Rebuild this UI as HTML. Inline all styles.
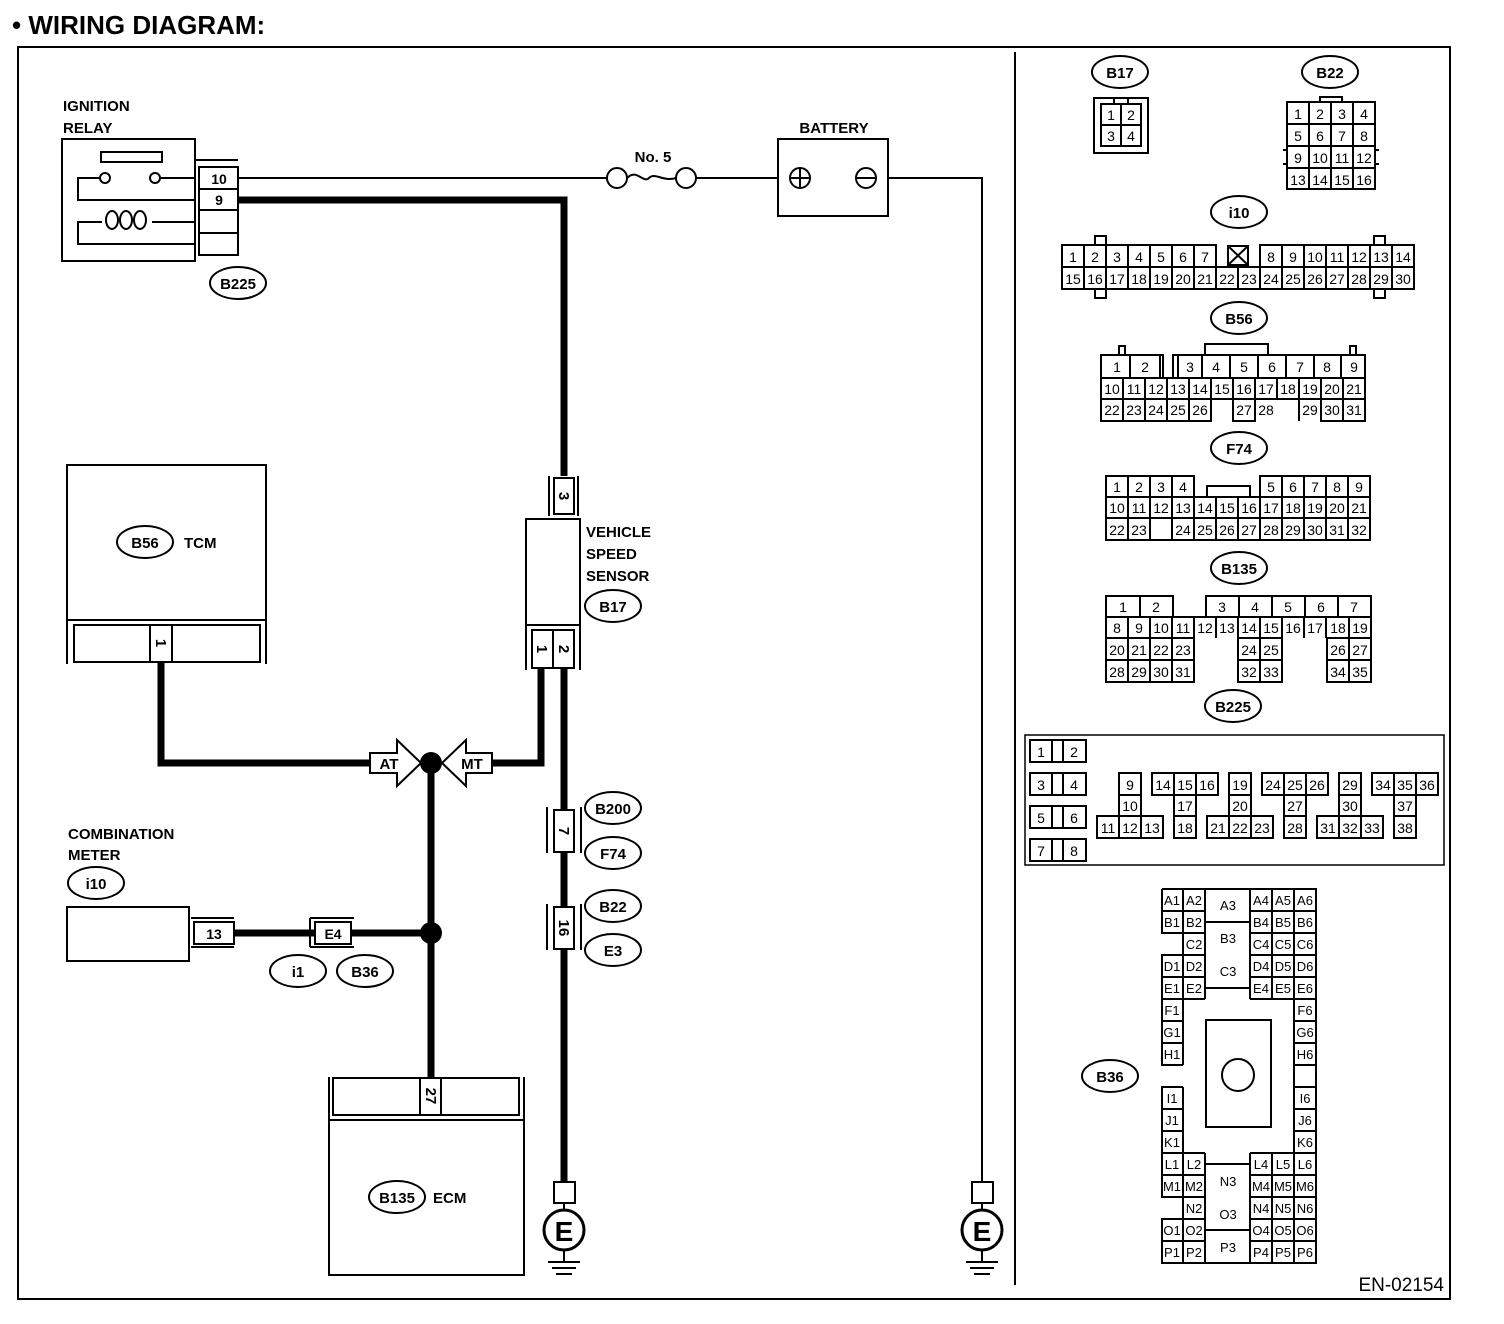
<!DOCTYPE html>
<html><head><meta charset="utf-8"><style>
html,body{margin:0;padding:0;background:#fff}
svg{display:block}
.r{fill:#fff;stroke:#000;stroke-width:2}
.n{fill:none;stroke:#000;stroke-width:2}
.w{fill:none;stroke:#000;stroke-width:7}
.t{font-family:"Liberation Sans",sans-serif;font-size:14px;text-anchor:middle}
.b{font-family:"Liberation Sans",sans-serif;font-size:15px;font-weight:bold}
.o{font-family:"Liberation Sans",sans-serif;font-size:15px;font-weight:bold;text-anchor:middle}
</style></head><body>
<svg width="1504" height="1324" viewBox="0 0 1504 1324" xmlns="http://www.w3.org/2000/svg">
<text x="12" y="34" style="font-family:'Liberation Sans',sans-serif;font-size:26px;font-weight:bold">•  WIRING DIAGRAM:</text>
<rect x="18" y="47" width="1432" height="1252" class="n"/>
<line x1="1015" y1="52" x2="1015" y2="1285" class="n"/>

<!-- Ignition relay -->
<text x="63" y="111" class="b">IGNITION</text><text x="63" y="133" class="b">RELAY</text>
<rect x="62" y="139" width="133" height="122" class="n"/>
<rect x="101" y="152" width="61" height="10" class="n"/>
<path d="M195 178 H160 M100 178 H78 V200 H195 M195 222 H152 M102 222 H78 V244 H195" class="n"/>
<circle cx="105" cy="178" r="5" class="r"/><circle cx="155" cy="178" r="5" class="r"/>
<ellipse cx="112" cy="220" rx="6" ry="9" class="n"/><ellipse cx="126" cy="220" rx="6" ry="9" class="n"/><ellipse cx="140" cy="220" rx="6" ry="9" class="n"/>
<line x1="195" y1="160" x2="238" y2="160" class="n"/>
<rect x="199" y="167" width="39" height="88" class="n"/>
<path d="M199 189 H238 M199 210 H238 M199 233 H238" class="n"/>
<text x="219" y="184" class="o" style="font-size:14px">10</text><text x="219" y="205" class="o" style="font-size:14px">9</text>
<ellipse cx="238" cy="283" rx="28" ry="16" class="n"/><text x="238" y="289" class="o">B225</text>

<!-- fuse and battery -->
<path d="M238 178 H607 M696 178 H778" class="n"/>
<circle cx="617" cy="178" r="10" class="r"/><circle cx="686" cy="178" r="10" class="r"/>
<path d="M627 178 c10-10 16 6 22 0 c6-6 14 4 27 0" class="n"/>
<text x="653" y="162" class="o">No. 5</text>
<text x="834" y="133" class="o">BATTERY</text>
<rect x="778" y="139" width="110" height="77" class="n"/>
<circle cx="800" cy="178" r="10" class="r"/><path d="M790 178H810M800 168V188" class="n"/>
<circle cx="866" cy="178" r="10" class="r"/><path d="M856 178H876" class="n"/>
<path d="M888 178 H982 V1182" class="n"/>
<rect x="972" y="1182" width="21" height="21" class="n"/>
<line x1="982" y1="1203" x2="982" y2="1210" class="n"/>
<circle cx="982" cy="1230" r="20" class="n" style="stroke-width:3"/>
<text x="982" y="1241" class="o" style="font-size:28px">E</text>
<path d="M982 1250V1262 M966 1262H998 M970 1268H994 M974 1274H990" class="n"/>

<!-- thick wire 9 -->
<path d="M238 200 H564 V476" class="w"/>
<path d="M549 476V516 M578 476V516" class="n"/>
<rect x="554" y="478" width="20" height="36" class="r"/>
<text transform="translate(564,496) rotate(90)" class="o" y="5">3</text>
<rect x="526" y="519" width="54" height="106" class="n"/>
<path d="M526 625V670 M580 625V670" class="n"/>
<rect x="532" y="630" width="42" height="38" class="r"/><line x1="553" y1="630" x2="553" y2="668" class="n"/>
<text transform="translate(542,649) rotate(90)" class="o" y="5">1</text>
<text transform="translate(564,649) rotate(90)" class="o" y="5">2</text>
<text x="586" y="537" class="b">VEHICLE</text><text x="586" y="559" class="b">SPEED</text><text x="586" y="581" class="b">SENSOR</text>
<ellipse cx="613" cy="606" rx="28" ry="16" class="n"/><text x="613" y="612" class="o">B17</text>

<!-- TCM -->
<rect x="67" y="465" width="199" height="155" class="n"/>
<ellipse cx="145" cy="542" rx="28" ry="16" class="n"/><text x="145" y="548" class="o">B56</text>
<text x="184" y="548" class="b">TCM</text>
<path d="M67 620V664 M266 620V664 M67 620H266" class="n"/>
<rect x="74" y="625" width="186" height="37" class="n"/>
<rect x="150" y="625" width="22" height="37" class="r"/>
<text transform="translate(161,643) rotate(90)" class="o" y="5">1</text>

<path d="M161 662 V763 H372" class="w"/>
<path d="M541 668 V763 H490" class="w"/>
<path d="M564 668 V1182" class="w"/>
<path d="M431 763 V1077" class="w"/>
<path d="M235 933 H431" class="w"/>
<path d="M370 753 H397 V740 L421 763 L397 786 V773 H370 Z" class="r"/>
<text x="389" y="769" class="o">AT</text>
<path d="M492 753 H466 V740 L442 763 L466 786 V773 H492 Z" class="r"/>
<text x="472" y="769" class="o">MT</text>
<circle cx="431" cy="763" r="11"/>
<circle cx="431" cy="933" r="11"/>

<path d="M547 807V853 M581 807V853" class="n"/>
<rect x="554" y="810" width="20" height="42" class="r"/>
<text transform="translate(564,831) rotate(90)" class="o" y="5">7</text>
<path d="M547 904V950 M581 904V950" class="n"/>
<rect x="554" y="907" width="20" height="42" class="r"/>
<text transform="translate(564,928) rotate(90)" class="o" y="5">16</text>
<ellipse cx="613" cy="808" rx="28" ry="16" class="n"/><text x="613" y="814" class="o">B200</text>
<ellipse cx="613" cy="853" rx="28" ry="16" class="n"/><text x="613" y="859" class="o">F74</text>
<ellipse cx="613" cy="906" rx="28" ry="16" class="n"/><text x="613" y="912" class="o">B22</text>
<ellipse cx="613" cy="950" rx="28" ry="16" class="n"/><text x="613" y="956" class="o">E3</text>
<rect x="554" y="1182" width="21" height="21" class="n"/>
<line x1="564" y1="1203" x2="564" y2="1210" class="n"/>
<circle cx="564" cy="1230" r="20" class="n" style="stroke-width:3"/>
<text x="564" y="1241" class="o" style="font-size:28px">E</text>
<path d="M564 1250V1262 M548 1262H580 M552 1268H576 M556 1274H572" class="n"/>

<!-- Combination meter -->
<text x="68" y="839" class="b">COMBINATION</text><text x="68" y="860" class="b">METER</text>
<ellipse cx="96" cy="883" rx="28" ry="16" class="n"/><text x="96" y="889" class="o">i10</text>
<rect x="67" y="907" width="122" height="54" class="n"/>
<path d="M191 918H234 M191 947H234" class="n"/>
<rect x="194" y="922" width="40" height="22" class="r"/><text x="214" y="939" class="o" style="font-size:14px">13</text>
<path d="M310 918H354 M310 947H354 M310 918V947" class="n"/>
<rect x="315" y="922" width="36" height="22" class="r"/><text x="333" y="939" class="o" style="font-size:14px">E4</text>
<ellipse cx="298" cy="971" rx="28" ry="16" class="n"/><text x="298" y="977" class="o">i1</text>
<ellipse cx="365" cy="971" rx="28" ry="16" class="n"/><text x="365" y="977" class="o">B36</text>

<!-- ECM -->
<path d="M329 1077V1275H524V1077" class="n"/>
<line x1="329" y1="1120" x2="524" y2="1120" class="n"/>
<rect x="333" y="1078" width="186" height="37" class="n"/>
<rect x="420" y="1078" width="21" height="37" class="r"/>
<text transform="translate(431,1096) rotate(90)" class="o" y="5">27</text>
<ellipse cx="397" cy="1197" rx="28" ry="16" class="n"/><text x="397" y="1203" class="o">B135</text>
<text x="433" y="1203" class="b">ECM</text>

<!-- RIGHT: B17 -->
<ellipse cx="1120" cy="72" rx="28" ry="16" class="n"/><text x="1120" y="78" class="o">B17</text>
<rect x="1094" y="98" width="54" height="55" class="n"/>
<rect x="1101" y="104" width="40" height="42" class="n"/>
<path d="M1121 104V146 M1101 125H1141 M1114 98V104 M1128 98V104" class="n"/>
<text x="1111" y="120" class="t">1</text><text x="1131" y="120" class="t">2</text>
<text x="1111" y="141" class="t">3</text><text x="1131" y="141" class="t">4</text>

<!-- B22 -->
<ellipse cx="1330" cy="72" rx="28" ry="16" class="n"/><text x="1330" y="78" class="o">B22</text>
<rect x="1320" y="97" width="22" height="5" class="n"/>
<rect x="1287" y="102" width="88" height="87" class="n"/>
<path d="M1309 102V189 M1331 102V189 M1353 102V189 M1287 124H1375 M1287 146H1375 M1287 168H1375 M1283 150H1287V164H1283 M1379 150H1375V164H1379" class="n"/>
<g class="t"><text x="1298" y="119">1</text><text x="1320" y="119">2</text><text x="1342" y="119">3</text><text x="1364" y="119">4</text>
<text x="1298" y="141">5</text><text x="1320" y="141">6</text><text x="1342" y="141">7</text><text x="1364" y="141">8</text>
<text x="1298" y="163">9</text><text x="1320" y="163">10</text><text x="1342" y="163">11</text><text x="1364" y="163">12</text>
<text x="1298" y="185">13</text><text x="1320" y="185">14</text><text x="1342" y="185">15</text><text x="1364" y="185">16</text></g>

<!-- i10 -->
<ellipse cx="1239" cy="212" rx="28" ry="16" class="n"/><text x="1239" y="218" class="o">i10</text>
<path d="M1216 267V245H1062V289H1414V245H1260V267" class="n"/>
<path d="M1062 267H1414" class="n"/>
<path d="M1084 245V289 M1106 245V289 M1128 245V289 M1150 245V289 M1172 245V289 M1194 245V289 M1216 245V289 M1238 267V289 M1260 245V289 M1282 245V289 M1304 245V289 M1326 245V289 M1348 245V289 M1370 245V289 M1392 245V289" class="n"/>
<rect x="1228" y="246" width="20" height="19" class="n"/><path d="M1228 246L1248 265M1248 246L1228 265" class="n"/>
<path d="M1095 245V236H1106V245 M1095 289V298H1106V289 M1374 245V236H1385V245 M1374 289V298H1385V289" class="n"/>
<g class="t"><text x="1073" y="262">1</text><text x="1095" y="262">2</text><text x="1117" y="262">3</text><text x="1139" y="262">4</text><text x="1161" y="262">5</text><text x="1183" y="262">6</text><text x="1205" y="262">7</text>
<text x="1271" y="262">8</text><text x="1293" y="262">9</text><text x="1315" y="262">10</text><text x="1337" y="262">11</text><text x="1359" y="262">12</text><text x="1381" y="262">13</text><text x="1403" y="262">14</text>
<text x="1073" y="284">15</text><text x="1095" y="284">16</text><text x="1117" y="284">17</text><text x="1139" y="284">18</text><text x="1161" y="284">19</text><text x="1183" y="284">20</text><text x="1205" y="284">21</text><text x="1227" y="284">22</text><text x="1249" y="284">23</text><text x="1271" y="284">24</text><text x="1293" y="284">25</text><text x="1315" y="284">26</text><text x="1337" y="284">27</text><text x="1359" y="284">28</text><text x="1381" y="284">29</text><text x="1403" y="284">30</text></g>

<!-- B56 -->
<ellipse cx="1239" cy="318" rx="28" ry="16" class="n"/><text x="1239" y="324" class="o">B56</text>
<path d="M1163 378V355H1101V421H1211V399 M1233 399V421H1255V399 M1321 399V421H1365V355H1173V378" class="n"/>
<path d="M1101 378H1365 M1101 399H1365" class="n"/>
<path d="M1123 378V421 M1145 378V421 M1167 378V421 M1189 378V421 M1211 378V399 M1233 378V399 M1255 378V399 M1277 378V399 M1299 378V421 M1321 378V421 M1343 378V421" class="n"/>
<path d="M1130 355V378 M1160 355V378 M1178 355V378 M1202 355V378 M1230 355V378 M1258 355V378 M1286 355V378 M1314 355V378 M1341 355V378" class="n"/>
<path d="M1119 355V346H1125V355 M1350 355V346H1356V355 M1205 355V344H1268V355" class="n"/>
<g class="t"><text x="1117" y="372">1</text><text x="1145" y="372">2</text><text x="1190" y="372">3</text><text x="1216" y="372">4</text><text x="1244" y="372">5</text><text x="1272" y="372">6</text><text x="1300" y="372">7</text><text x="1327" y="372">8</text><text x="1354" y="372">9</text>
<text x="1112" y="394">10</text><text x="1134" y="394">11</text><text x="1156" y="394">12</text><text x="1178" y="394">13</text><text x="1200" y="394">14</text><text x="1222" y="394">15</text><text x="1244" y="394">16</text><text x="1266" y="394">17</text><text x="1288" y="394">18</text><text x="1310" y="394">19</text><text x="1332" y="394">20</text><text x="1354" y="394">21</text>
<text x="1112" y="415">22</text><text x="1134" y="415">23</text><text x="1156" y="415">24</text><text x="1178" y="415">25</text><text x="1200" y="415">26</text><text x="1244" y="415">27</text><text x="1266" y="415">28</text><text x="1310" y="415">29</text><text x="1332" y="415">30</text><text x="1354" y="415">31</text></g>

<!-- F74 -->
<ellipse cx="1239" cy="448" rx="28" ry="16" class="n"/><text x="1239" y="454" class="o">F74</text>
<path d="M1194 497V476H1106V540H1370V476H1260V497" class="n"/>
<path d="M1106 497H1370 M1106 518H1370" class="n"/>
<path d="M1128 476V540 M1150 476V540 M1172 476V540 M1194 497V518 M1216 497V518 M1238 497V518 M1260 497V518 M1282 476V540 M1304 476V540 M1326 476V540 M1348 476V540 M1194 518V540 M1260 518V540 M1216 518V540 M1238 518V540" class="n"/>
<path d="M1207 497V486H1250V497" class="n"/>
<g class="t"><text x="1117" y="492">1</text><text x="1139" y="492">2</text><text x="1161" y="492">3</text><text x="1183" y="492">4</text><text x="1271" y="492">5</text><text x="1293" y="492">6</text><text x="1315" y="492">7</text><text x="1337" y="492">8</text><text x="1359" y="492">9</text>
<text x="1117" y="513">10</text><text x="1139" y="513">11</text><text x="1161" y="513">12</text><text x="1183" y="513">13</text><text x="1205" y="513">14</text><text x="1227" y="513">15</text><text x="1249" y="513">16</text><text x="1271" y="513">17</text><text x="1293" y="513">18</text><text x="1315" y="513">19</text><text x="1337" y="513">20</text><text x="1359" y="513">21</text>
<text x="1117" y="535">22</text><text x="1139" y="535">23</text><text x="1183" y="535">24</text><text x="1205" y="535">25</text><text x="1227" y="535">26</text><text x="1249" y="535">27</text><text x="1271" y="535">28</text><text x="1293" y="535">29</text><text x="1315" y="535">30</text><text x="1337" y="535">31</text><text x="1359" y="535">32</text></g>
<path d="M1172 518V540 M1326 518V540" class="n"/>

<!-- B135 -->
<ellipse cx="1239" cy="568" rx="28" ry="16" class="n"/><text x="1239" y="574" class="o">B135</text>
<path d="M1173 617V596H1106V682H1194V638" class="n"/>
<path d="M1206 617V596H1371V682H1327V638" class="n"/>
<path d="M1238 638V682H1282V638" class="n"/>
<path d="M1106 617H1371 M1106 638H1194 M1238 638H1282 M1327 638H1371 M1106 660H1194 M1238 660H1282 M1327 660H1371" class="n"/>
<path d="M1140 596V617 M1239 596V617 M1272 596V617 M1305 596V617 M1338 596V617" class="n"/>
<path d="M1128 617V682 M1150 617V682 M1172 617V682 M1194 617V638 M1216 617V638 M1238 617V638 M1260 617V682 M1282 617V638 M1304 617V638 M1326 617V638 M1349 617V682" class="n"/>
<g class="t"><text x="1123" y="612">1</text><text x="1156" y="612">2</text><text x="1222" y="612">3</text><text x="1255" y="612">4</text><text x="1288" y="612">5</text><text x="1321" y="612">6</text><text x="1354" y="612">7</text>
<text x="1117" y="633">8</text><text x="1139" y="633">9</text><text x="1161" y="633">10</text><text x="1183" y="633">11</text><text x="1205" y="633">12</text><text x="1227" y="633">13</text><text x="1249" y="633">14</text><text x="1271" y="633">15</text><text x="1293" y="633">16</text><text x="1315" y="633">17</text><text x="1338" y="633">18</text><text x="1360" y="633">19</text>
<text x="1117" y="655">20</text><text x="1139" y="655">21</text><text x="1161" y="655">22</text><text x="1183" y="655">23</text><text x="1249" y="655">24</text><text x="1271" y="655">25</text><text x="1338" y="655">26</text><text x="1360" y="655">27</text>
<text x="1117" y="677">28</text><text x="1139" y="677">29</text><text x="1161" y="677">30</text><text x="1183" y="677">31</text><text x="1249" y="677">32</text><text x="1271" y="677">33</text><text x="1338" y="677">34</text><text x="1360" y="677">35</text></g>

<!-- B225 -->
<ellipse cx="1233" cy="706" rx="28" ry="16" class="n"/><text x="1233" y="712" class="o">B225</text>
<rect x="1025" y="735" width="419" height="130" style="fill:none;stroke:#000;stroke-width:1.5"/>
<g class="n">
<rect x="1030" y="740" width="56" height="22"/><path d="M1052 740V762M1063 740V762"/>
<rect x="1030" y="773" width="56" height="22"/><path d="M1052 773V795M1063 773V795"/>
<rect x="1030" y="806" width="56" height="22"/><path d="M1052 806V828M1063 806V828"/>
<rect x="1030" y="839" width="56" height="22"/><path d="M1052 839V861M1063 839V861"/>
<path d="M1119 773H1141V816H1163V838H1097V816H1119Z M1119 795H1141 M1119 816H1141 M1119 816V838 M1141 816V838"/>
<path d="M1152 773H1218V795H1196V838H1174V795H1152Z M1174 773V795 M1196 773V795 M1174 795H1196 M1174 816H1196"/>
<path d="M1229 773H1251V816H1273V838H1207V816H1229Z M1229 795H1251 M1229 816H1251 M1229 816V838 M1251 816V838"/>
<path d="M1262 773H1328V795H1306V838H1284V795H1262Z M1284 773V795 M1306 773V795 M1284 795H1306 M1284 816H1306"/>
<path d="M1339 773H1361V816H1383V838H1317V816H1339Z M1339 795H1361 M1339 816H1361 M1339 816V838 M1361 816V838"/>
<path d="M1372 773H1438V795H1416V838H1394V795H1372Z M1394 773V795 M1416 773V795 M1394 795H1416 M1394 816H1416"/>
</g>
<g class="t"><text x="1041" y="757">1</text><text x="1074" y="757">2</text><text x="1041" y="790">3</text><text x="1074" y="790">4</text><text x="1041" y="823">5</text><text x="1074" y="823">6</text><text x="1041" y="856">7</text><text x="1074" y="856">8</text>
<text x="1130" y="790">9</text><text x="1130" y="811">10</text><text x="1108" y="833">11</text><text x="1130" y="833">12</text><text x="1152" y="833">13</text>
<text x="1163" y="790">14</text><text x="1185" y="790">15</text><text x="1207" y="790">16</text><text x="1185" y="811">17</text><text x="1185" y="833">18</text>
<text x="1240" y="790">19</text><text x="1240" y="811">20</text><text x="1218" y="833">21</text><text x="1240" y="833">22</text><text x="1262" y="833">23</text>
<text x="1273" y="790">24</text><text x="1295" y="790">25</text><text x="1317" y="790">26</text><text x="1295" y="811">27</text><text x="1295" y="833">28</text>
<text x="1350" y="790">29</text><text x="1350" y="811">30</text><text x="1328" y="833">31</text><text x="1350" y="833">32</text><text x="1372" y="833">33</text>
<text x="1383" y="790">34</text><text x="1405" y="790">35</text><text x="1427" y="790">36</text><text x="1405" y="811">37</text><text x="1405" y="833">38</text></g>

<!-- B36 -->
<ellipse cx="1110" cy="1076" rx="28" ry="16" class="n"/><text x="1110" y="1082" class="o">B36</text>
<g class="n">
<path d="M1162 889H1316V1263H1162V1219H1183V1197H1162V1087H1183 M1183 1065H1162V955H1183V933H1162V889"/>
<path d="M1183 889V933 M1183 955V1065 M1183 1087V1263"/>
<path d="M1205 889V999 M1205 1153V1263 M1250 889V999 M1250 1153V1263 M1272 889V999 M1272 1153V1263 M1294 889V1263"/>
<path d="M1162 911H1205 M1250 911H1316 M1183 933H1205 M1250 933H1316 M1183 955H1205 M1250 955H1316 M1162 977H1205 M1250 977H1316 M1162 999H1205 M1250 999H1316 M1162 1021H1183 M1294 1021H1316 M1162 1043H1183 M1294 1043H1316 M1294 1065H1316 M1294 1087H1316 M1162 1109H1183 M1294 1109H1316 M1162 1131H1183 M1294 1131H1316 M1162 1153H1205 M1250 1153H1316 M1162 1175H1205 M1250 1175H1316 M1162 1197H1205 M1250 1197H1316 M1162 1219H1205 M1250 1219H1316 M1162 1241H1205 M1250 1241H1316"/>
<path d="M1205 922H1250 M1205 988H1250 M1205 1164H1250 M1205 1230H1250"/>
<rect x="1206" y="1020" width="65" height="107"/>
<circle cx="1238" cy="1075" r="16"/>
</g>
<g class="t" style="font-size:13px">
<text x="1172" y="905">A1</text><text x="1194" y="905">A2</text><text x="1228" y="910">A3</text><text x="1261" y="905">A4</text><text x="1283" y="905">A5</text><text x="1305" y="905">A6</text>
<text x="1172" y="927">B1</text><text x="1194" y="927">B2</text><text x="1228" y="943">B3</text><text x="1261" y="927">B4</text><text x="1283" y="927">B5</text><text x="1305" y="927">B6</text>
<text x="1194" y="949">C2</text><text x="1261" y="949">C4</text><text x="1283" y="949">C5</text><text x="1305" y="949">C6</text>
<text x="1172" y="971">D1</text><text x="1194" y="971">D2</text><text x="1228" y="976">C3</text><text x="1261" y="971">D4</text><text x="1283" y="971">D5</text><text x="1305" y="971">D6</text>
<text x="1172" y="993">E1</text><text x="1194" y="993">E2</text><text x="1261" y="993">E4</text><text x="1283" y="993">E5</text><text x="1305" y="993">E6</text>
<text x="1172" y="1015">F1</text><text x="1305" y="1015">F6</text><text x="1172" y="1037">G1</text><text x="1305" y="1037">G6</text><text x="1172" y="1059">H1</text><text x="1305" y="1059">H6</text>
<text x="1172" y="1103">I1</text><text x="1305" y="1103">I6</text><text x="1172" y="1125">J1</text><text x="1305" y="1125">J6</text><text x="1172" y="1147">K1</text><text x="1305" y="1147">K6</text>
<text x="1172" y="1169">L1</text><text x="1194" y="1169">L2</text><text x="1261" y="1169">L4</text><text x="1283" y="1169">L5</text><text x="1305" y="1169">L6</text>
<text x="1172" y="1191">M1</text><text x="1194" y="1191">M2</text><text x="1228" y="1186">N3</text><text x="1261" y="1191">M4</text><text x="1283" y="1191">M5</text><text x="1305" y="1191">M6</text>
<text x="1194" y="1213">N2</text><text x="1228" y="1219">O3</text><text x="1261" y="1213">N4</text><text x="1283" y="1213">N5</text><text x="1305" y="1213">N6</text>
<text x="1172" y="1235">O1</text><text x="1194" y="1235">O2</text><text x="1261" y="1235">O4</text><text x="1283" y="1235">O5</text><text x="1305" y="1235">O6</text>
<text x="1172" y="1257">P1</text><text x="1194" y="1257">P2</text><text x="1228" y="1252">P3</text><text x="1261" y="1257">P4</text><text x="1283" y="1257">P5</text><text x="1305" y="1257">P6</text></g>

<text x="1444" y="1291" style="font-family:'Liberation Sans',sans-serif;font-size:19px;text-anchor:end">EN-02154</text>
</svg>
</body></html>
